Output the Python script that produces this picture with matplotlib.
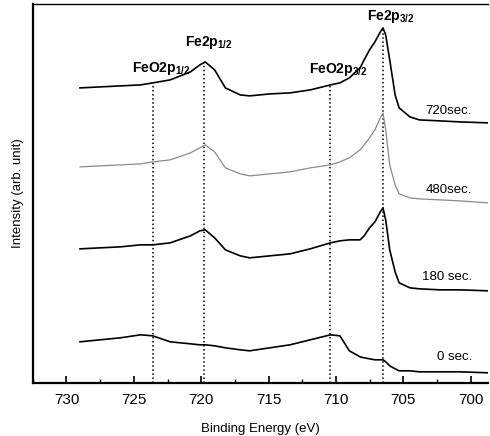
import matplotlib
matplotlib.use("Agg")
import matplotlib.pyplot as plt
from matplotlib.ticker import MultipleLocator

plt.rcParams['font.family'] = ['Liberation Sans', 'DejaVu Sans']
plt.rcParams['mathtext.fontset'] = 'custom'
plt.rcParams['mathtext.rm'] = 'Liberation Sans'
plt.rcParams['mathtext.bf'] = 'Liberation Sans:bold'

# binding energy (eV) sample points
energy = [729.0, 727.5, 726.0, 724.5, 723.6, 722.3, 720.8, 720.1, 719.7, 719.0,
          718.2, 717.1, 716.4, 714.9, 713.4, 711.9, 710.4, 709.7, 709.0, 708.2,
          707.9, 707.5, 707.1, 706.7, 706.5, 706.3, 706.0, 705.6, 705.3, 704.5,
          703.8, 702.3, 700.8, 698.7]

# intensities (arb. unit, already stacked)
s720 = [295, 296, 297, 298, 300, 303, 311, 318, 321, 313, 295, 288, 287, 289, 290, 293, 298,
        300, 305, 315, 323, 333, 341, 351, 355, 348, 323, 288, 275, 266, 263, 262, 261, 260]
s480 = [216, 217, 218, 219, 221, 223, 230, 235, 238, 231, 215, 209, 207, 209, 211, 215, 218,
        221, 225, 233, 238, 245, 253, 265, 270, 253, 218, 198, 189, 185, 184, 183, 182, 180]
s180 = [134, 135, 136, 138, 138, 140, 147, 152, 153, 145, 133, 127, 125, 127, 129, 134, 140,
        142, 143, 143, 147, 155, 161, 171, 175, 163, 133, 111, 100, 95, 94, 93, 93, 92]
s0 = [41, 43, 45, 48, 47, 41, 39, 38, 38, 37, 35, 33, 32, 35, 38, 43, 48,
      47, 32, 26, 25, 24, 23, 23, 23, 21, 17, 14, 12, 12, 11, 11, 11, 10]

time_labels = ['720sec.', '480sec.', '180 sec.', '0 sec.']
label_y = [272, 193, 106, 26]

peak_pos = [723.6, 719.8, 710.4, 706.5]
peak_top = [298, 321, 298, 355]
peak_names = [r'FeO2p$_{\mathbf{1/2}}$', r'Fe2p$_{\mathbf{1/2}}$',
              r'FeO2p$_{\mathbf{3/2}}$', r'Fe2p$_{\mathbf{3/2}}$']
peak_label_x = [723.0, 719.4, 709.8, 705.9]
peak_label_y = [314, 340, 313, 366]

fig = plt.figure(figsize=(4.9, 4.36), dpi=100)
ax = fig.add_axes([0.067, 0.122, 0.929, 0.869])

ax.vlines(peak_pos, 0, peak_top, colors='black', linestyles=':', linewidth=1.1)

ax.plot(energy, s720, color='black', lw=1.2)
ax.plot(energy, s480, color='#8a8a8a', lw=0.9)
ax.plot(energy, s180, color='black', lw=1.2)
ax.plot(energy, s0, color='black', lw=1.2)

for lab, y in zip(time_labels, label_y):
    ax.text(699.9, y, lab, ha='right', va='center', fontsize=9.5)

for name, x, y in zip(peak_names, peak_label_x, peak_label_y):
    ax.text(x, y, name, ha='center', va='center', fontsize=10, fontweight='bold')

ax.set_xlim(732.5, 698.7)
ax.set_ylim(0, 379)
ax.xaxis.set_major_locator(MultipleLocator(5))
ax.xaxis.set_minor_locator(MultipleLocator(2.5))
ax.tick_params(axis='x', which='major', direction='in', length=5, width=1.2,
               labelsize=11, pad=7)
ax.tick_params(axis='x', which='minor', direction='in', length=3, width=1)
ax.set_yticks([])

ax.spines['right'].set_visible(False)
ax.spines['left'].set_linewidth(1.6)
ax.spines['bottom'].set_linewidth(1.6)
ax.spines['top'].set_linewidth(1.0)

ax.set_xlabel('Binding Energy (eV)', fontsize=9.5, labelpad=12)
ax.set_ylabel('Intensity (arb. unit)', fontsize=9.5, labelpad=6)

fig.savefig('out.png', dpi=100)
